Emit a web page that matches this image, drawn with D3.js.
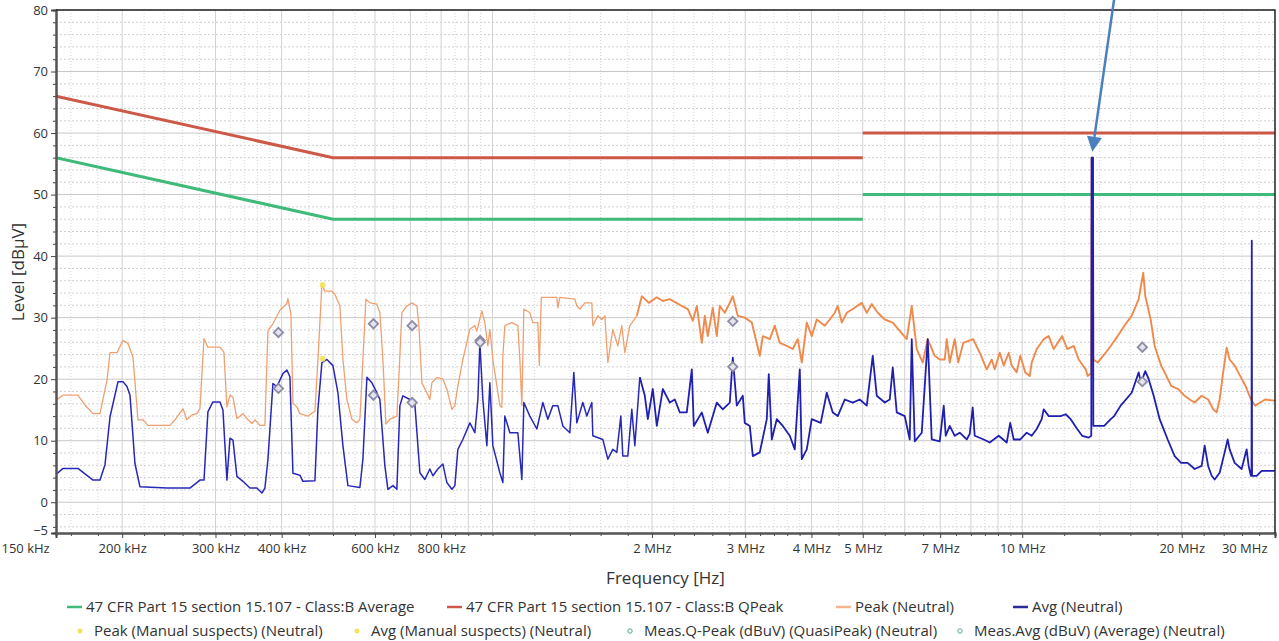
<!DOCTYPE html>
<html>
<head>
<meta charset="utf-8">
<script src="https://cdn.jsdelivr.net/npm/d3@7"></script>
<style>
    body { margin: 0; background: #fff; }
    svg text { font-family: "Open Sans", "Noto Sans", sans-serif; fill: #333; }
</style>
</head>
<body>
<svg id="chart" width="1279" height="641"></svg>
<script>
'use strict';

// frequencies in MHz, levels in dBuV
var xTickValues = [0.15, 0.2, 0.3, 0.4, 0.6, 0.8, 2, 3, 4, 5, 7, 10, 20, 30];
var yTickValues = [-5, 0, 10, 20, 30, 40, 50, 60, 70, 80];

var qpLimit = [[[0.15, 66], [0.5, 56], [5, 56]], [[5, 60], [30, 60]]];
var avgLimit = [[[0.15, 56], [0.5, 46], [5, 46]], [[5, 50], [30, 50]]];

var peakTrace = [
    [0.150,16.6],[0.1546,17.4],[0.1650,17.4],[0.1701,15.8],[0.1762,14.4],[0.1816,14.4],[0.1872,19.8],[0.1897,24.3],
    [0.1955,24.3],[0.2007,26.3],[0.2051,25.8],[0.2096,23.6],[0.2142,13.4],[0.2189,13.4],[0.2237,12.5],[0.2462,12.5],
    [0.2516,13.4],[0.2605,15.2],[0.2650,13.4],[0.2709,14.2],[0.2768,14.4],[0.2804,15.2],[0.2854,26.6],[0.2903,25.2],
    [0.3059,25.2],[0.3112,24.4],[0.3153,15.5],[0.3195,17.4],[0.3237,17.1],[0.3293,13.6],[0.3380,14.4],[0.3455,13.4],
    [0.3515,12.8],[0.3561,13.4],[0.3639,12.5],[0.3719,12.5],[0.3768,27.9],[0.3851,29.0],[0.3970,31.2],[0.4092,32.3],
    [0.4110,33.1],[0.4164,30.6],[0.4201,16.1],[0.4274,15.5],[0.4330,14.4],[0.4483,14.0],[0.4622,14.8],[0.4683,23.2],
    [0.4765,35.4],[0.4827,34.3],[0.4976,34.3],[0.5041,33.8],[0.5152,31.9],[0.5220,23.2],[0.5311,16.7],[0.5428,13.5],
    [0.5547,12.9],[0.5620,13.5],[0.5694,23.2],[0.5769,33.0],[0.5870,32.4],[0.6051,32.2],[0.6130,30.8],[0.6211,23.2],
    [0.6292,12.7],[0.6403,13.5],[0.6600,14.0],[0.6658,20.5],[0.6745,30.8],[0.6893,31.9],[0.7045,32.4],[0.7200,31.9],
    [0.7262,28.7],[0.7358,19.4],[0.7519,17.8],[0.7618,16.7],[0.7684,19.4],[0.7853,20.3],[0.8061,20.0],[0.8202,18.4],
    [0.8382,15.1],[0.8492,15.7],[0.8603,18.9],[0.8792,23.2],[0.9064,28.1],[0.9263,28.7],[0.9344,27.8],[0.9549,31.1],
    [0.9674,29.2],[0.9801,25.4],[0.9887,28.1],[1.0017,23.2],[1.0326,15.7],[1.0416,15.4],[1.0462,23.8],[1.0553,28.7],
    [1.0879,29.2],[1.1166,28.7],[1.1264,23.2],[1.1362,15.7],[1.1461,31.4],[1.1764,30.8],[1.1918,29.2],[1.2180,29.2],
    [1.2260,22.2],[1.2366,33.3],[1.3228,33.3],[1.3286,31.6],[1.3401,33.3],[1.4304,33.0],[1.4429,31.9],[1.4618,31.4],
    [1.4939,32.4],[1.5401,32.4],[1.5468,28.7],[1.5808,30.3],[1.6085,29.7],[1.6296,30.3],[1.6510,22.7],[1.6872,28.1],
    [1.7243,25.4],[1.7545,28.7],[1.7775,24.3],[1.8166,28.7],[1.8727,30.3],[1.9138,33.5],[1.9730,32.4],[2.0427,33.3],
    [2.0966,32.7],[2.1614,33.0],[2.2771,31.9],[2.3373,31.4],[2.3886,29.5],[2.4305,31.9],[2.4839,25.9],[2.5165,30.3],
    [2.5494,27.0],[2.6054,31.6],[2.6511,27.0],[2.6859,31.9],[2.7449,30.8],[2.8052,32.4],[2.8420,33.5],[2.9044,30.3],
    [2.9941,30.0],[3.0866,29.2],[3.1958,23.8],[3.2377,27.0],[3.3377,26.5],[3.4110,28.7],[3.4859,25.9],[3.5936,25.4],
    [3.6885,24.9],[3.7696,26.5],[3.8357,22.7],[3.9198,29.2],[4.0059,27.0],[4.0940,29.7],[4.2388,28.7],[4.3319,29.7],
    [4.4270,30.8],[4.4851,31.9],[4.5638,29.2],[4.6640,30.8],[4.7873,31.4],[4.9780,32.4],[5.0874,30.8],[5.1992,32.2],
    [5.3365,30.8],[5.5013,29.7],[5.6959,29.2],[6.0531,26.5],[6.1861,31.9],[6.3220,24.9],[6.4890,22.7],[6.6315,26.5],
    [6.8363,23.8],[6.9865,23.2],[7.1399,23.2],[7.2022,26.5],[7.2968,22.7],[7.4571,26.5],[7.5713,22.7],[7.7381,25.9],
    [8.0811,26.5],[8.3127,24.3],[8.5694,21.6],[8.7577,23.2],[8.8726,21.6],[9.0676,24.3],[9.2265,22.2],[9.4290,24.3],
    [9.5526,22.2],[9.7625,21.1],[9.916,23.8],[10.134,21.1],[10.330,20.5],[10.420,22.7],[10.649,24.9],[10.978,26.5],
    [11.219,27.0],[11.465,24.9],[11.897,27.0],[12.157,24.9],[12.506,25.4],[12.781,23.2],[13.176,21.6],[13.291,20.5],
    [13.50,21.0],[13.52,56.0],[13.60,56.0],[13.62,23.2],[13.881,22.7],[14.372,24.3],[14.688,25.4],[15.141,27.0],
    [15.594,28.7],[16.091,30.3],[16.588,33.0],[16.921,37.3],[17.071,33.5],[17.476,29.7],[17.782,25.4],[18.292,22.2],
    [18.572,21.1],[19.103,18.9],[19.690,18.4],[20.258,17.3],[20.703,16.7],[21.158,16.2],[21.812,17.3],[22.436,16.7],
    [22.931,15.1],[23.280,14.6],[23.586,16.7],[23.947,21.1],[24.314,25.1],[24.633,23.2],[25.174,22.2],[25.798,20.5],
    [26.397,18.9],[27.014,16.7],[27.519,15.7],[28.123,16.2],[28.746,16.7],[30.0,16.5]
];

var avgTrace = [
    [0.150,4.5],[0.1546,5.5],[0.1650,5.5],[0.1762,3.6],[0.1816,3.6],[0.1856,6.1],[0.1897,13.9],[0.1964,19.6],
    [0.2007,19.6],[0.2042,18.8],[0.2069,17.4],[0.2114,6.3],[0.2161,2.5],[0.2430,2.3],[0.2685,2.3],[0.2804,3.6],
    [0.2854,3.6],[0.2903,14.7],[0.2967,16.3],[0.3059,16.3],[0.3099,15.0],[0.3153,3.6],[0.3195,10.4],[0.3237,10.1],
    [0.3293,4.2],[0.3380,3.4],[0.3485,2.3],[0.3592,2.3],[0.3671,1.5],[0.3719,2.3],[0.3768,6.9],[0.3851,19.3],
    [0.3918,18.8],[0.4022,20.9],[0.4092,21.5],[0.4146,20.4],[0.4201,4.7],[0.4330,4.4],[0.4387,3.4],[0.4622,3.5],
    [0.4683,15.1],[0.4765,22.7],[0.4869,23.2],[0.4998,22.2],[0.5108,17.8],[0.5220,9.2],[0.5335,2.7],[0.5620,2.4],
    [0.5694,7.0],[0.5794,20.3],[0.5921,19.4],[0.6051,17.8],[0.6130,16.7],[0.6265,5.9],[0.6347,2.1],[0.6487,2.7],
    [0.6600,2.1],[0.6687,15.7],[0.6775,17.3],[0.6984,16.7],[0.7137,15.9],[0.7294,4.8],[0.7454,3.7],[0.7618,5.4],
    [0.7718,4.3],[0.7887,5.4],[0.8061,6.2],[0.8202,3.2],[0.8382,2.1],[0.8492,2.7],[0.8603,8.6],[0.8792,10.2],
    [0.9064,12.9],[0.9263,11.3],[0.9385,16.7],[0.9467,25.9],[0.9591,16.7],[0.9759,9.2],[0.9887,19.4],[1.0017,9.2],
    [1.0326,4.8],[1.0462,3.2],[1.0553,14.0],[1.0785,11.3],[1.1166,11.3],[1.1362,3.7],[1.1461,16.2],[1.1764,14.0],
    [1.2127,11.9],[1.2447,16.2],[1.2721,13.5],[1.3000,15.7],[1.3286,15.7],[1.3577,12.4],[1.3997,11.3],[1.4242,21.1],
    [1.4429,12.9],[1.4810,16.2],[1.5070,14.0],[1.5401,16.2],[1.5468,10.8],[1.6155,10.2],[1.6510,7.0],[1.6872,8.6],
    [1.7168,8.1],[1.7469,14.0],[1.7622,7.5],[1.8009,7.5],[1.8324,15.1],[1.8565,9.2],[1.8973,20.3],[1.9389,17.3],
    [1.9644,13.5],[2.0075,18.4],[2.0427,12.4],[2.0966,18.4],[2.1614,16.2],[2.2089,16.7],[2.2574,14.6],[2.3271,14.6],
    [2.3782,21.6],[2.3990,12.4],[2.4839,14.6],[2.5494,11.3],[2.6511,16.2],[2.7212,15.1],[2.8052,16.2],[2.8420,23.5],
    [2.8918,15.7],[2.9682,17.3],[2.9941,12.9],[3.0599,12.4],[3.1001,7.5],[3.1958,8.1],[3.2945,13.5],[3.3232,20.8],
    [3.3668,10.2],[3.4408,13.5],[3.5317,12.4],[3.6408,10.8],[3.7207,8.6],[3.8025,21.6],[3.8357,7.0],[3.9198,8.6],
    [4.0059,13.5],[4.1657,12.9],[4.2758,17.8],[4.3888,14.6],[4.4851,14.0],[4.6236,16.7],[4.7873,16.2],[4.9350,16.7],
    [5.0874,15.7],[5.2218,23.8],[5.3134,17.3],[5.5013,16.2],[5.6222,16.7],[5.6959,21.9],[5.7958,14.6],[6.0008,14.0],
    [6.1325,10.2],[6.1861,26.5],[6.2672,9.9],[6.4608,11.3],[6.6315,26.5],[6.7478,10.2],[6.9865,9.9],[7.1090,15.7],
    [7.1710,10.8],[7.2968,12.4],[7.4571,10.8],[7.6207,11.3],[7.8561,10.2],[7.9592,11.1],[8.0637,15.4],[8.1340,10.8],
    [8.4585,10.2],[8.6819,9.7],[9.0282,10.8],[9.3473,9.7],[9.491,12.9],[9.6360,10.2],[9.916,10.2],[10.196,11.3],
    [10.420,10.8],[10.649,11.9],[10.883,13.5],[10.978,15.1],[11.219,14.0],[11.819,14.0],[12.079,14.3],[12.344,13.5],
    [12.698,11.9],[12.976,10.8],[13.348,10.5],[13.50,10.8],[13.52,56.0],[13.60,56.0],[13.62,12.4],[13.761,12.4],
    [14.279,12.4],[14.688,13.5],[14.914,14.0],[15.340,15.7],[16.091,17.8],[16.588,21.1],[16.758,19.4],[17.071,21.3],
    [17.325,20.0],[17.705,17.3],[18.173,13.5],[18.816,10.2],[19.397,7.5],[19.951,6.4],[20.524,6.4],[21.158,5.4],
    [21.812,5.9],[22.098,9.2],[22.436,5.9],[22.780,4.3],[23.079,3.7],[23.586,4.8],[24.104,8.1],[24.420,10.2],
    [24.633,8.6],[25.174,6.4],[25.952,5.4],[26.522,8.6],[26.753,5.9],[27.014,4.3],[27.09,4.3],[27.12,42.5],
    [27.15,4.3],[27.699,4.3],[28.308,5.1],[30.0,5.1]
];

var qpMeasured = [[0.3944, 27.6], [0.5960, 29.0], [0.7053, 28.7], [0.9477, 26.3], [2.842, 29.4], [16.855, 25.2]];
var avgMeasured = [[0.3944, 18.5], [0.5960, 17.4], [0.7053, 16.2], [0.9477, 26.0], [2.842, 22.0], [16.855, 19.6]];
var peakSuspects = [[0.478, 35.3]];
var avgSuspects = [[0.478, 23.3]];
var arrowTarget = [13.56, 56];

var legendRow1 = ['47 CFR Part 15 section 15.107 - Class:B Average', '47 CFR Part 15 section 15.107 - Class:B QPeak',
    'Peak (Neutral)', 'Avg (Neutral)'];
var legendRow2 = ['Peak (Manual suspects) (Neutral)', 'Avg (Manual suspects) (Neutral)',
    'Meas.Q-Peak (dBuV) (QuasiPeak) (Neutral)', 'Meas.Avg (dBuV) (Average) (Neutral)'];

var colors = {
    green: '#3fba78',
    red: '#cc5847',
    orange: '#f0a070',
    orangeDense: '#f08a4c',
    blue: '#2828b8',
    blueDense: '#1f1fb0',
    diamond: '#8d8ca6',
    suspect: '#f2e35a',
    ring: '#55a889',
    arrow: '#4a7fc0'
};

var svg = d3.select('#chart'),
    pLeft = 56, pRight = 1275, pTop = 10, pBottom = 533;

var x = d3.scaleLog().domain([0.15, 30]).range([pLeft, pRight]);
var y = d3.scaleLinear().domain([-5, 80]).range([pBottom, pTop]);

svg.append('defs').append('clipPath').attr('id', 'plot_clip')
    .append('rect').attr('x', pLeft).attr('y', pTop).attr('width', pRight - pLeft).attr('height', pBottom - pTop);

// grid positions
var majorGridX = [], minorGridX = [];
[0.1, 1, 10].forEach(function(dec) {
    for (var m = 1; m <= 9; m++) {
        var v = +(m * dec).toPrecision(4);
        if (v > 0.15 && v < 30) majorGridX.push(v);
    }
    for (var n = 1; n < 10; n += (n < 4 ? 0.2 : 0.5)) {
        var w = +(n * dec).toPrecision(4);
        if (Math.abs(n - Math.round(n)) > 0.01 && w > 0.15 && w < 30) minorGridX.push(w);
    }
});
var majorGridY = d3.range(0, 81, 10),
    minorGridY = d3.range(-4, 80, 2).filter(function(v) { return v % 10 !== 0; });

var grid = svg.append('g');
grid.selectAll('.gy-min').data(minorGridY).enter().append('line')
    .attr('x1', pLeft).attr('x2', pRight).attr('y1', y).attr('y2', y)
    .attr('stroke', '#cfcfcf').attr('stroke-dasharray', '2,2');
grid.selectAll('.gx-min').data(minorGridX).enter().append('line')
    .attr('x1', x).attr('x2', x).attr('y1', pTop).attr('y2', pBottom)
    .attr('stroke', '#d6d6d6').attr('stroke-dasharray', '1,2');
grid.selectAll('.gy-maj').data(majorGridY).enter().append('line')
    .attr('x1', pLeft).attr('x2', pRight).attr('y1', y).attr('y2', y)
    .attr('stroke', '#c8c8c8');
grid.selectAll('.gx-maj').data(majorGridX).enter().append('line')
    .attr('x1', x).attr('x2', x).attr('y1', pTop).attr('y2', pBottom)
    .attr('stroke', '#d2d2d2');

var line = d3.line().x(function(d) { return x(d[0]); }).y(function(d) { return y(d[1]); });
var plot = svg.append('g').attr('clip-path', 'url(#plot_clip)');

// limit lines
avgLimit.forEach(function(seg) {
    plot.append('path').attr('d', line(seg)).attr('fill', 'none')
        .attr('stroke', colors.green).attr('stroke-width', 3);
});
qpLimit.forEach(function(seg) {
    plot.append('path').attr('d', line(seg)).attr('fill', 'none')
        .attr('stroke', colors.red).attr('stroke-width', 3);
});

// traces: the high band of the scan is denser in the reference, so draw it heavier
function drawTrace(data, split, thin, dense) {
    var lo = data.filter(function(d) { return d[0] <= split; }),
        hi = data.filter(function(d) { return d[0] >= lo[lo.length - 1][0]; });
    plot.append('path').attr('d', line(lo)).attr('fill', 'none')
        .attr('stroke', thin.color).attr('stroke-width', thin.width).attr('stroke-linejoin', 'round');
    plot.append('path').attr('d', line(hi)).attr('fill', 'none')
        .attr('stroke', dense.color).attr('stroke-width', dense.width).attr('stroke-linejoin', 'round');
}
drawTrace(peakTrace, 1.9, {color: colors.orange, width: 1.3}, {color: colors.orangeDense, width: 1.9});
drawTrace(avgTrace, 1.9, {color: colors.blue, width: 1.5}, {color: colors.blueDense, width: 1.8});

// markers
var diamond = d3.symbol().type(d3.symbolSquare).size(44);
plot.selectAll('.mark').data(qpMeasured.concat(avgMeasured)).enter().append('path')
    .attr('d', diamond)
    .attr('transform', function(d) { return 'translate(' + x(d[0]) + ',' + y(d[1]) + ') rotate(45)'; })
    .attr('fill', '#e4e4ee').attr('stroke', colors.diamond).attr('stroke-width', 1.8);
plot.selectAll('.suspect').data(peakSuspects.concat(avgSuspects)).enter().append('circle')
    .attr('cx', function(d) { return x(d[0]); }).attr('cy', function(d) { return y(d[1]); })
    .attr('r', 3).attr('fill', colors.suspect).attr('opacity', 0.9);

// axes
function fmtFreq(v) {
    return v < 1 ? Math.round(v * 1000) + ' kHz' : v + ' MHz';
}
var minorTickX = majorGridX.filter(function(v) { return xTickValues.indexOf(v) < 0; }).concat(minorGridX);

var xMinor = svg.append('g').attr('transform', 'translate(0,' + pBottom + ')')
    .call(d3.axisBottom(x).tickValues(minorTickX).tickSize(3).tickFormat(''));
var xAxis = svg.append('g').attr('transform', 'translate(0,' + pBottom + ')')
    .call(d3.axisBottom(x).tickValues(xTickValues).tickFormat(fmtFreq).tickSize(5).tickPadding(6));
var yMinor = svg.append('g').attr('transform', 'translate(' + pLeft + ',0)')
    .call(d3.axisLeft(y).tickValues(minorGridY).tickSize(3).tickFormat(''));
var yAxis = svg.append('g').attr('transform', 'translate(' + pLeft + ',0)')
    .call(d3.axisLeft(y).tickValues(yTickValues).tickSize(5).tickPadding(3));

[xMinor, xAxis, yMinor, yAxis].forEach(function(g) {
    g.selectAll('.tick line').attr('stroke', '#444');
    g.select('.domain').attr('stroke', '#555').attr('stroke-width', 2);
    g.selectAll('text').attr('font-size', 13).attr('font-family', null);
});
xAxis.selectAll('.tick text').filter(function(d, i) { return i === 0; })
    .attr('text-anchor', 'start').attr('x', 1 - pLeft);
xAxis.selectAll('.tick text').filter(function(d) { return d === 30; })
    .attr('text-anchor', 'end').attr('x', -8);
yAxis.selectAll('.tick text').filter(function(d) { return d === -5; })
    .attr('dy', '0.1em');

// frame
svg.append('path')
    .attr('d', 'M' + pLeft + ',' + pTop + 'H' + pRight + 'V' + pBottom)
    .attr('fill', 'none').attr('stroke', '#222').attr('stroke-width', 1.5);

// titles
svg.append('text').attr('x', (pLeft + pRight) / 2).attr('y', 584)
    .attr('text-anchor', 'middle').attr('font-size', 17).text('Frequency [Hz]');
svg.append('text').attr('transform', 'translate(24,272) rotate(-90)')
    .attr('text-anchor', 'middle').attr('font-size', 17).text('Level [dB\u00b5V]');

// legend
var legend = svg.append('g');
var row1X = [67, 447, 836, 1013],
    row1Col = [colors.green, colors.red, '#f2b58e', '#2a2a9c'];
legendRow1.forEach(function(label, i) {
    legend.append('line').attr('x1', row1X[i]).attr('x2', row1X[i] + 15).attr('y1', 607).attr('y2', 607)
        .attr('stroke', row1Col[i]).attr('stroke-width', 2.5);
    legend.append('text').attr('x', row1X[i] + 19).attr('y', 612).attr('font-size', 15).text(label);
});
var row2X = [80, 357, 630, 960];
legendRow2.forEach(function(label, i) {
    if (i < 2) {
        legend.append('circle').attr('cx', row2X[i]).attr('cy', 631).attr('r', 2.5)
            .attr('fill', colors.suspect);
    } else {
        legend.append('circle').attr('cx', row2X[i]).attr('cy', 631).attr('r', 2.2)
            .attr('fill', 'none').attr('stroke', colors.ring).attr('stroke-width', 1);
    }
    legend.append('text').attr('x', row2X[i] + 14).attr('y', 636).attr('font-size', 15).text(label);
});

// annotation arrow pointing at the 13.56 MHz spike
var tipX = x(arrowTarget[0]), tipY = y(arrowTarget[1]) - 6;
var startX = tipX + 22, startY = -2;
var ang = Math.atan2(tipY - startY, tipX - startX);
var headLen = 15, headHalf = 7.5;
var baseX = tipX - headLen * Math.cos(ang), baseY = tipY - headLen * Math.sin(ang);
svg.append('line').attr('x1', startX).attr('y1', startY).attr('x2', baseX).attr('y2', baseY)
    .attr('stroke', colors.arrow).attr('stroke-width', 2.5);
svg.append('path')
    .attr('d', 'M' + tipX + ',' + tipY +
        'L' + (baseX + headHalf * Math.sin(ang)) + ',' + (baseY - headHalf * Math.cos(ang)) +
        'L' + (baseX - headHalf * Math.sin(ang)) + ',' + (baseY + headHalf * Math.cos(ang)) + 'Z')
    .attr('fill', colors.arrow);
</script>
</body>
</html>
